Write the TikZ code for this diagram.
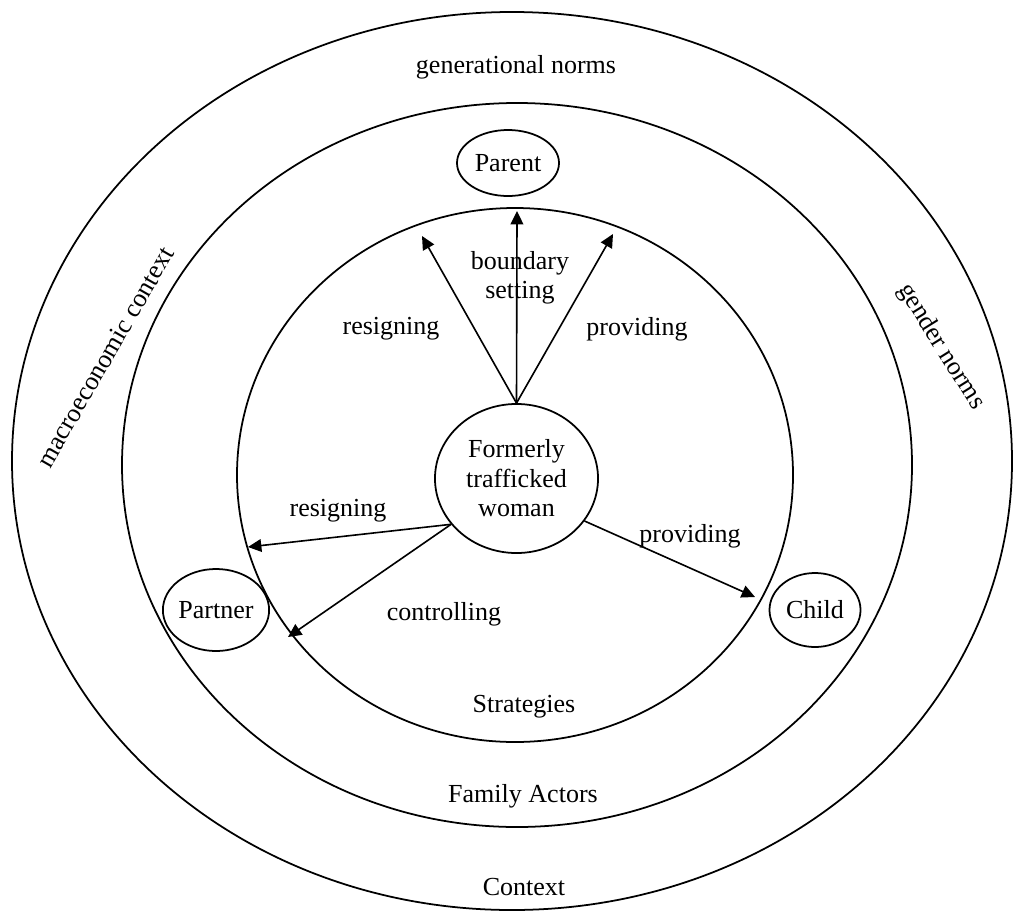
\documentclass[tikz,border=0pt]{standalone}
\usepackage{fontspec}
\setmainfont{Liberation Serif}
\usetikzlibrary{arrows.meta,positioning,shapes.geometric}
\tikzset{
  ringln/.style={line width=1.25pt},
  actor/.style={ellipse, draw, line width=1.25pt, inner sep=0pt},
  stratln/.style={-{Triangle[length=9.5pt,width=9pt]}, line width=1.15pt},
  lbl/.style={inner sep=0pt, align=center},
}

\begin{document}
\begin{tikzpicture}[x=0.025cm, y=-0.025cm,
    font=\fontsize{18.5}{21}\selectfont]
    \useasboundingbox (0,0) rectangle (1016,913);
    % ----- rings -----
    \draw[ringln] (512,461) ellipse [x radius=500, y radius=449];
    \draw[ringln] (517,465) ellipse [x radius=395, y radius=362];
    \draw[ringln] (515,475) ellipse [x radius=278, y radius=267];
    % ring labels
    \node[lbl] (gen) at (516,67) {generational norms};
    \node[lbl, rotate=60] (macro) at (105,357) {macroeconomic context};
    \node[lbl, rotate=-58] (gender) at (941,347) {gender norms};
    \node[lbl] (strat) at (524,707) {Strategies};
    \node[lbl] (family) at (523,796) {Family Actors};
    \node[lbl] (context) at (524,887) {Context};
    % ----- actors -----
    \node[actor, minimum width=4.075cm, minimum height=3.725cm, align=center]
      (woman) at (516.5,478.5) {Formerly\\trafficked\\woman};
    \node[actor, minimum width=2.55cm, minimum height=1.65cm] (parent) at (508,163) {Parent};
    \node[actor, minimum width=2.15cm, minimum height=2.05cm] (partner) at (216,610) {Partner};
    \node[actor, minimum width=2.275cm, minimum height=1.85cm] (child) at (815,610) {Child};
    % ----- strategies -----
    \coordinate (tipA) at (422,236);
    \coordinate (tipB) at (517,211);
    \coordinate (tipC) at (613,234);
    \coordinate (tipD) at (248,547);
    \coordinate (tipE) at (288,637);
    \coordinate (tipF) at (755,597);
    \draw[stratln] (woman.north) -- (tipA);
    \draw[stratln] (woman.north) -- (tipB);
    \draw[stratln] (woman.north) -- (tipC);
    \draw[stratln] (woman.215) -- (tipD);
    \draw[stratln] (woman.215) -- (tipE);
    \draw[stratln] (woman.-32) -- (tipF);
    \node[lbl] (bound) at (520,278) {boundary\\setting};
    \node[lbl] (resA) at (391,329) {resigning};
    \node[lbl] (provA) at (637,329) {providing};
    \node[lbl] (resB) at (338,511) {resigning};
    \node[lbl] (ctrl) at (444,614) {controlling};
    \node[lbl] (provB) at (690,536) {providing};
\end{tikzpicture}
\end{document}
